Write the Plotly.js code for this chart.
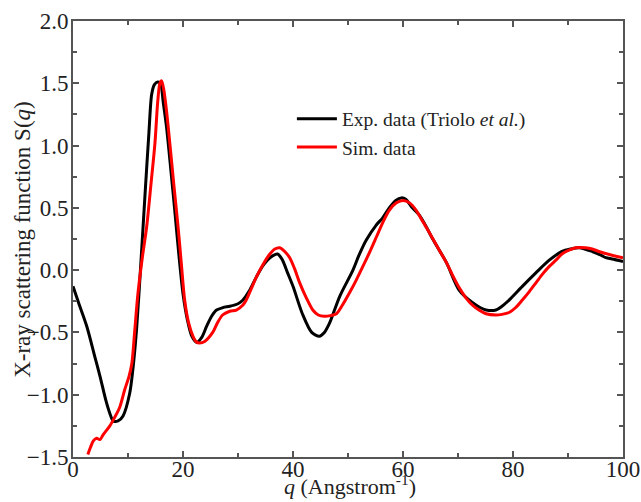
<!DOCTYPE html>
<html>
<head>
<meta charset="utf-8">
<script src="https://cdn.plot.ly/plotly-3.0.1.min.js"></script>
<style>html,body{margin:0;padding:0;background:#fff;}#chart{width:641px;height:502px;}</style>
</head>
<body>
<div id="chart"></div>
<script>
const expX = [0,1,2.5,4,4.9,6,6.7,7.3,8.2,9.1,10.3,11,11.6,12.4,13.1,13.8,14.3,14.8,15.4,15.9,16.4,17,17.8,18.5,19.3,20,20.8,21.6,22.5,23.4,24.3,25.2,26.1,27.3,28.5,30,30.9,32,33.4,34.6,35.8,37.2,38.1,39,40,41.7,43.4,44.8,45.7,46.6,48.5,50.9,52,53.3,55.1,56.3,57.5,58.7,59.7,60.5,61.7,63,64.2,65.4,67.9,70.2,72.6,74,75.1,76.9,78,79.3,81.7,84.2,86.6,88.9,90.5,92,94.4,96,96.9,98,100];
const expY = [-0.13,-0.26,-0.45,-0.7,-0.85,-1.05,-1.15,-1.21,-1.21,-1.17,-0.99,-0.75,-0.45,0.1,0.61,1.1,1.41,1.49,1.51,1.5,1.35,1.15,0.8,0.48,0.1,-0.19,-0.4,-0.53,-0.58,-0.54,-0.45,-0.37,-0.32,-0.3,-0.29,-0.27,-0.24,-0.17,-0.05,0.04,0.1,0.13,0.08,-0.02,-0.13,-0.35,-0.5,-0.53,-0.5,-0.43,-0.21,0,0.12,0.24,0.36,0.42,0.5,0.56,0.58,0.57,0.5,0.44,0.35,0.25,0.06,-0.16,-0.26,-0.3,-0.32,-0.32,-0.29,-0.24,-0.13,-0.02,0.08,0.15,0.17,0.18,0.15,0.12,0.1,0.09,0.07];
const simX = [2.7,3.2,3.7,4.3,4.9,5.5,6.7,7.6,8.5,9.4,10.2,10.7,11.2,11.8,12.6,13.4,14.2,14.9,15.4,15.8,16.1,16.5,17,17.6,18.3,19.1,19.7,20.3,21,21.8,22.4,23,24,25.4,26.3,27.2,28.5,29.7,30.9,31.5,32.4,33.4,34.6,35.8,36.7,37.6,38.5,39.4,40.3,41.2,42.4,43.6,44.6,45.7,46.8,47.9,49,50.3,51.5,52.7,54,55.2,56.3,57.5,58.8,60,61.2,62.4,63.6,64.8,66.6,67.9,69,70.2,71.4,72.6,73.8,75.1,76.9,78,79.3,80.5,81.7,83,84.2,85.4,86.6,87.8,88.9,90.2,91.4,93.2,94.4,95.6,98,100];
const simY = [-1.48,-1.42,-1.37,-1.35,-1.36,-1.32,-1.25,-1.18,-1.1,-0.96,-0.85,-0.75,-0.5,-0.19,0.1,0.35,0.7,1.02,1.35,1.5,1.52,1.45,1.28,1.02,0.7,0.35,0.05,-0.24,-0.42,-0.53,-0.575,-0.585,-0.57,-0.5,-0.42,-0.36,-0.33,-0.32,-0.28,-0.24,-0.15,-0.05,0.05,0.13,0.17,0.18,0.15,0.1,0.01,-0.1,-0.22,-0.32,-0.36,-0.37,-0.365,-0.35,-0.28,-0.18,-0.08,0.03,0.15,0.27,0.38,0.48,0.54,0.56,0.54,0.48,0.39,0.3,0.16,0.06,-0.04,-0.14,-0.22,-0.28,-0.32,-0.35,-0.36,-0.355,-0.34,-0.3,-0.24,-0.17,-0.1,-0.03,0.03,0.08,0.13,0.16,0.18,0.18,0.17,0.15,0.12,0.1];
const expName = 'Exp. data (Triolo <i>et al.</i>)';
const simName = 'Sim. data';
const xTitle = '<i>q</i> (Angstrom<sup>-1</sup>)';
const yTitle = 'X-ray scattering function S(<i>q</i>)';

const font = 'Liberation Serif, Times New Roman, serif';
const traces = [
  {x: expX, y: expY, name: expName, type: 'scatter', mode: 'lines',
   line: {color: '#000000', width: 3, shape: 'spline', smoothing: 0.8}},
  {x: simX, y: simY, name: simName, type: 'scatter', mode: 'lines',
   line: {color: '#ff0000', width: 3, shape: 'spline', smoothing: 0.8}}
];
const axisCommon = {
  showgrid: false, zeroline: false, showline: true, linecolor: '#555555', linewidth: 2,
  mirror: 'allticks', ticks: 'inside', ticklen: 6, tickwidth: 2, tickcolor: '#555555',
  tickfont: {family: font, size: 23, color: '#222222'}
};
const layout = {
  width: 641, height: 502,
  margin: {l: 73, r: 18, t: 21, b: 45},
  paper_bgcolor: '#ffffff', plot_bgcolor: '#ffffff',
  showlegend: true,
  legend: {x: 0.398, y: 0.82, xanchor: 'left', yanchor: 'top', bgcolor: 'rgba(0,0,0,0)',
           font: {family: font, size: 19.5, color: '#222222'}, itemwidth: 40, tracegroupgap: 0},
  xaxis: Object.assign({}, axisCommon, {
    range: [0, 100], dtick: 20, tick0: 0, ticklabelstandoff: -10,
    minor: {dtick: 10, ticks: 'inside', ticklen: 4, tickwidth: 2, tickcolor: '#555555'}
  }),
  yaxis: Object.assign({}, axisCommon, {
    range: [-1.5, 2.0], dtick: 0.5, tick0: 0, tickformat: '.1f', ticklabelstandoff: -2,
    minor: {dtick: 0.25, ticks: 'inside', ticklen: 4, tickwidth: 2, tickcolor: '#555555'}
  }),
  annotations: [
    {text: xTitle, xref: 'paper', yref: 'paper', x: 0.503, y: -0.098, xanchor: 'center', yanchor: 'bottom',
     borderpad: 0, showarrow: false, font: {family: font, size: 22, color: '#222222'}},
    {text: yTitle, xref: 'paper', yref: 'paper', x: -0.093, y: 0.5, xanchor: 'center', yanchor: 'middle',
     borderpad: 0, textangle: -90, showarrow: false, font: {family: font, size: 23, color: '#222222'}}
  ]
};
Plotly.newPlot('chart', traces, layout, {staticPlot: true, displayModeBar: false});
</script>
</body>
</html>
